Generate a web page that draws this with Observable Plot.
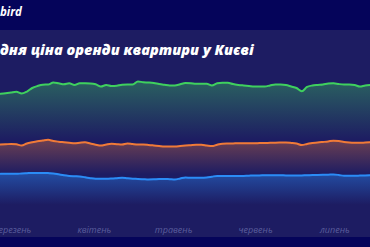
<!DOCTYPE html>
<html>
<head>
<meta charset="utf-8">
<script src="https://cdn.jsdelivr.net/npm/d3@7"></script>
<script src="https://cdn.jsdelivr.net/npm/@observablehq/plot@0.6"></script>
<style>
  html, body { margin: 0; padding: 0; background: #05045a; }
  #wrap { position: relative; width: 370px; height: 247px; overflow: hidden; background: #05045a; }
  #logo { position: absolute; left: 0; top: 4px; color: #fff; font: italic 700 11.5px "Open Sans", sans-serif; }
  #panel { position: absolute; left: 0; top: 30px; width: 370px; height: 207px; background: #1d1c62; overflow: hidden; }
  #title { position: absolute; left: 0; top: 10px; white-space: nowrap; color: #fff; font: italic 800 14.5px "Open Sans", sans-serif; z-index: 2; }
  #chart { position: absolute; left: 0; top: 0; }
</style>
</head>
<body>
<div id="wrap">
  <div id="logo">bird</div>
  <div id="panel">
    <div id="title"><span id="cut">Сере</span>дня ціна оренди квартири у Києві</div>
    <div id="chart"></div>
  </div>
</div>
<script>
// Series values (UAH), one reading every 2 days
const startDate = new Date(2023, 1, 24, 12);
const stepDays = 2;
const threeRoom = [35220,35340,35540,35740,35290,35780,36640,37130,37450,37500,37990,37790,37550,37790,37380,37820,37820,37770,37550,37010,37380,37130,37210,37450,37500,37500,38240,38060,37990,37870,37620,37430,37260,37260,37550,37840,37790,37670,37670,37670,37260,37790,37920,37920,37600,37400,37260,37130,37010,37010,37010,37260,37500,37500,37380,37010,36640,35860,36890,37260,37400,37500,37720,37790,37600,37500,37500,37380,37010,37260,37380,37430];
const twoRoom = [22790,22840,22940,22840,22550,23040,23330,23580,23770,23950,23650,23480,23360,23240,23110,23240,23360,23040,22750,22550,22790,22970,22870,22790,23040,22890,22790,22790,22700,22570,22430,22300,22300,22300,22400,22520,22620,22720,22720,22550,22400,22750,22990,23040,23060,23110,23110,23110,23110,23140,23160,23210,23240,23260,23280,23190,23040,22670,22920,23190,23280,23410,23550,23730,23650,23430,23310,23240,23210,23280,23330,23360];
const oneRoom = [15610,15610,15610,15610,15690,15760,15830,15830,15810,15780,15710,15490,15250,15100,15020,14950,14760,14530,14390,14390,14390,14440,14530,14630,14510,14410,14360,14290,14220,14260,14340,14360,14290,14220,14460,14710,14630,14630,14630,14710,14900,15100,15100,15070,15050,15050,15100,15150,15200,15220,15250,15270,15270,15250,15220,15200,15200,15220,15270,15290,15340,15370,15390,15440,15320,15120,15120,15120,15170,15220,15250,15270];
const seriesNames = ["3-кімнатна", "2-кімнатна", "1-кімнатна"];
const seriesColors = ["#3fd05e", "#f07a38", "#2b8cf6"];
const fadeTop = [0.38, 0.38, 0.45];
const fadeStops = [0.38, 0.36, 0.5];
const monthTicks = [new Date(2023,2,1), new Date(2023,3,1), new Date(2023,4,1), new Date(2023,5,1), new Date(2023,6,1)];
const monthLabels = ["березень", "квітень", "травень", "червень", "липень"];
const xDomain = [new Date(2023,1,24,12), new Date(2023,6,14,12)];

const dates = threeRoom.map((_, i) => d3.timeDay.offset(startDate, i * stepDays));
const allSeries = [threeRoom, twoRoom, oneRoom];
const rows = allSeries.map((vals, s) => vals.map((v, i) => ({date: dates[i], value: v, s})));

const marks = [];
rows.forEach((r, s) => {
  marks.push(Plot.areaY(r, {x: "date", y: "value", fill: `url(#grad${s})`, curve: "monotone-x"}));
});
rows.forEach((r, s) => {
  marks.push(Plot.lineY(r, {x: "date", y: "value", stroke: seriesColors[s], strokeWidth: 2, curve: "monotone-x"}));
});
marks.push(Plot.axisX({
  ticks: monthTicks,
  tickFormat: (d) => monthLabels[monthTicks.findIndex(t => +t === +d)],
  tickSize: 0, dy: -20, color: "#5a5d9c", fontSize: 9, label: null
}));

const svg = Plot.plot({
  width: 370, height: 207,
  marginTop: 3, marginBottom: 0, marginLeft: 0, marginRight: 0,
  x: {type: "time", domain: xDomain},
  y: {domain: [0, 50000], axis: null},
  style: {background: "transparent", fontFamily: "Open Sans, sans-serif", fontStyle: "italic", overflow: "hidden"},
  marks
});

const defs = d3.select(svg).insert("defs", ":first-child");
seriesColors.forEach((c, s) => {
  const g = defs.append("linearGradient").attr("id", `grad${s}`).attr("x1", 0).attr("y1", 0).attr("x2", 0).attr("y2", 1);
  g.append("stop").attr("offset", 0).attr("stop-color", c).attr("stop-opacity", fadeTop[s]);
  g.append("stop").attr("offset", fadeStops[s]).attr("stop-color", c).attr("stop-opacity", 0);
});
document.getElementById("chart").appendChild(svg);

const cut = document.getElementById("cut");
document.getElementById("title").style.left = (-cut.offsetWidth) + "px";
</script>
</body>
</html>
